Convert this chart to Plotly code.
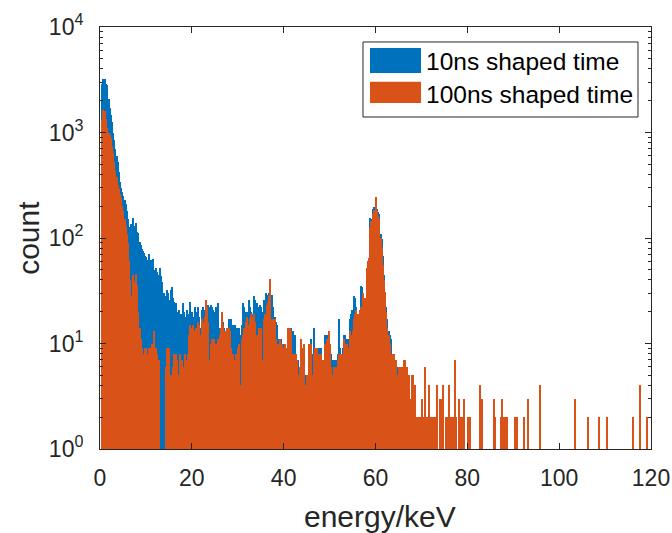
import numpy as np
import plotly.graph_objects as go

# ---------------- data (counts per 0.25 keV bin) ----------------
bin_width_keV = 0.25

# 10 ns shaping time
blue_00_10 = [0, 2900, 3250, 3100, 3200, 2900, 2800, 2100, 1700, 1450,
              1250, 1000, 850, 700, 600, 520, 420, 340, 300, 270,
              250, 230, 210, 180, 150, 120, 128, 135, 155, 130,
              125, 140, 115, 112, 92, 85, 78, 75, 72, 68]
blue_10_20 = [66, 62, 70, 58, 62, 55, 63, 50, 52, 48,
              40, 45, 52, 44, 38, 30, 28, 25, 32, 30,
              26, 32, 34, 27, 25, 22, 24, 20, 21, 18,
              19, 17, 24, 20, 18, 21, 17, 19, 25, 20]
blue_20_30 = [20, 18, 22, 17, 20, 22, 18, 14, 21, 22,
              20, 21, 24, 22, 23, 22, 23, 22, 21, 20,
              19, 22, 24, 14, 13, 14, 15, 16, 14, 13,
              14, 13, 17, 16, 17, 15, 14, 15, 13, 14]
blue_30_40 = [13, 14, 12, 15, 24, 22, 20, 19, 20, 26,
              22, 20, 17, 19, 28, 26, 24, 22, 20, 23,
              22, 20, 26, 25, 30, 29, 28, 30, 36, 29,
              22, 17, 18, 16, 15, 11, 10, 11, 10, 10]
blue_40_50 = [10, 10, 9, 12, 13, 12, 14, 12, 13, 12,
              8, 7, 7, 6, 6, 10, 9, 10, 5, 4,
              5, 4, 10, 11, 8, 6, 14, 9, 9, 9,
              9, 8, 9, 6, 7, 7, 12, 12, 11, 12]
blue_50_60 = [9, 8, 7, 7, 7, 7, 7, 8, 17, 9,
              8, 9, 12, 12, 11, 11, 11, 17, 19, 21,
              20, 28, 27, 22, 18, 19, 17, 35, 34, 28,
              26, 25, 52, 60, 65, 155, 150, 190, 195, 180]
blue_60_70 = [200, 190, 175, 170, 110, 98, 68, 45, 31, 22,
              17, 13, 12, 11, 8, 8, 8, 7, 6, 5,
              5, 5, 4, 5, 4, 3, 3, 3, 3, 3,
              3, 2, 2, 3, 2, 1, 1, 1, 1, 1]
blue_70_80 = [1, 1, 2, 1, 0, 1, 1, 0, 1, 1,
              0, 1, 0, 1, 0, 0, 1, 1, 0, 0,
              1, 0, 1, 0, 1, 0, 0, 1, 0, 1,
              0, 0, 1, 0, 0, 1, 0, 0, 0, 0]
blue_80_90 = [1, 0, 1, 0, 0, 0, 0, 1, 0, 0,
              0, 1, 1, 0, 0, 0, 0, 0, 0, 1,
              0, 0, 0, 1, 0, 0, 0, 0, 0, 1,
              0, 1, 0, 0, 1, 0, 0, 0, 0, 0]
blue_90_100 = [0, 1, 0, 0, 0, 0, 0, 0, 0, 1,
               0, 0, 1, 0, 0, 0, 0, 0, 0, 0,
               0, 0, 0, 1, 0, 0, 0, 0, 0, 0,
               0, 0, 0, 0, 0, 0, 0, 0, 0, 0]
blue_100_110 = [0] * 40
blue_110_120 = [0] * 40

# 100 ns shaping time
orange_00_10 = [0, 1300, 1650, 1500, 1600, 1350, 1100, 980, 950, 880,
                750, 640, 520, 430, 380, 320, 290, 260, 240, 200,
                180, 150, 130, 110, 90, 60, 40, 28, 45, 38,
                30, 46, 35, 20, 14, 11, 9, 8, 4, 9]
orange_10_20 = [9, 8, 9, 8, 9, 10, 8, 13, 9, 8,
                6, 7, 0, 0, 1, 0, 1, 6, 9, 8,
                9, 5, 2, 6, 8, 7, 8, 7, 5, 8,
                4, 7, 2, 6, 8, 7, 8, 12, 15, 13]
orange_20_30 = [14, 15, 13, 14, 13, 16, 15, 12, 17, 14,
                16, 18, 26, 22, 16, 7, 10, 11, 10, 11,
                8, 10, 11, 10, 12, 14, 20, 15, 13, 13,
                14, 12, 14, 13, 9, 8, 7, 6, 8, 7]
orange_30_40 = [9, 10, 4, 11, 12, 14, 13, 16, 18, 15,
                17, 19, 16, 18, 19, 16, 12, 11, 14, 13,
                14, 7, 17, 19, 18, 23, 25, 28, 41, 17,
                17, 16, 17, 11, 10, 10, 11, 9, 10, 9]
orange_40_50 = [0, 10, 9, 14, 13, 14, 13, 8, 8, 8,
                8, 7, 5, 2, 6, 11, 9, 10, 0, 4,
                5, 4, 10, 10, 5, 5, 8, 9, 8, 9,
                8, 8, 8, 0, 7, 7, 10, 11, 10, 13]
orange_50_60 = [10, 6, 5, 6, 5, 6, 6, 7, 8, 8,
                8, 8, 11, 10, 9, 10, 9, 13, 12, 11,
                13, 17, 19, 21, 19, 17, 21, 22, 14, 30,
                27, 25, 52, 60, 65, 125, 145, 170, 185, 160]
orange_60_70 = [245, 180, 160, 150, 100, 80, 55, 40, 31, 20,
                14, 12, 10, 8, 8, 2, 8, 7, 5, 5,
                6, 6, 6, 6, 7, 7, 0, 6, 5, 5,
                3, 5, 5, 0, 4, 2, 2, 2, 2, 2]
orange_70_80 = [3, 2, 2, 6, 2, 2, 4, 2, 2, 2,
                2, 2, 0, 4, 1, 0, 3, 3, 4, 0,
                1, 2, 2, 1, 4, 2, 2, 2, 2, 7,
                2, 1, 3, 2, 2, 2, 1, 3, 0, 1]
orange_80_90 = [2, 1, 2, 1, 0, 1, 0, 1, 0, 1,
                0, 4, 3, 1, 0, 1, 0, 1, 0, 1,
                0, 1, 0, 3, 2, 1, 0, 1, 0, 2,
                3, 2, 2, 2, 2, 1, 0, 1, 0, 1]
orange_90_100 = [0, 2, 1, 2, 0, 1, 0, 0, 0, 2,
                 1, 0, 3, 0, 1, 0, 0, 0, 0, 0,
                 0, 0, 0, 4, 0, 0, 0, 1, 0, 0,
                 0, 0, 0, 1, 0, 0, 0, 0, 0, 0]
orange_100_110 = [0, 0, 0, 0, 1, 0, 0, 0, 0, 0,
                  0, 0, 0, 3, 0, 0, 0, 0, 0, 0,
                  1, 0, 0, 0, 0, 2, 0, 0, 0, 0,
                  0, 0, 0, 0, 2, 0, 0, 0, 0, 0]
orange_110_120 = [0, 2, 0, 0, 0, 0, 0, 0, 0, 1,
                  0, 0, 0, 0, 0, 0, 0, 0, 0, 0,
                  0, 0, 0, 0, 2, 0, 0, 0, 0, 0,
                  4, 0, 0, 0, 0, 0, 2, 0, 0, 0]

series_names = ["10ns shaped time", "100ns shaped time"]
x_tick_vals = [0, 20, 40, 60, 80, 100, 120]
y_tick_vals = [1, 10, 100, 1000, 10000]
y_tick_text = ["10<sup>0</sup>", "10<sup>1</sup>", "10<sup>2</sup>",
               "10<sup>3</sup>", "10<sup>4</sup>"]
x_label = "energy/keV"
y_label = "count"

counts_10ns = (blue_00_10 + blue_10_20 + blue_20_30 + blue_30_40 + blue_40_50 +
               blue_50_60 + blue_60_70 + blue_70_80 + blue_80_90 + blue_90_100 +
               blue_100_110 + blue_110_120)
counts_100ns = (orange_00_10 + orange_10_20 + orange_20_30 + orange_30_40 +
                orange_40_50 + orange_50_60 + orange_60_70 + orange_70_80 +
                orange_80_90 + orange_90_100 + orange_100_110 + orange_110_120)

n_bins = len(counts_10ns)
bin_centers = (np.arange(n_bins) + 0.5) * bin_width_keV

# ---------------- style ----------------
BLUE = "#0072BD"
ORANGE = "#D95319"
AXC = "#262626"
FONT = "Liberation Sans, Arial, sans-serif"


def clean(vals):
    return [v if v > 0 else None for v in vals]


fig = go.Figure()
fig.add_trace(go.Bar(x=bin_centers, y=clean(counts_10ns), width=bin_width_keV,
                     marker=dict(color=BLUE, line=dict(width=0)),
                     name=series_names[0], showlegend=False))
fig.add_trace(go.Bar(x=bin_centers, y=clean(counts_100ns), width=bin_width_keV,
                     marker=dict(color=ORANGE, line=dict(width=0)),
                     name=series_names[1], showlegend=False))

minor_vals = [m * 10 ** d for d in range(0, 4) for m in range(2, 10)]

fig.update_layout(
    width=672, height=533, autosize=False,
    margin=dict(l=100, r=21, t=27, b=84),
    paper_bgcolor="white", plot_bgcolor="white",
    barmode="overlay", bargap=0,
    font=dict(family=FONT, color=AXC),
    xaxis=dict(range=[0, 120], tickvals=x_tick_vals, ticks="inside", ticklen=6,
               tickcolor=AXC, showline=True, linecolor=AXC, linewidth=1,
               mirror="ticks", showgrid=False, zeroline=False, automargin=False,
               tickfont=dict(size=23, color=AXC), ticklabelstandoff=8),
    yaxis=dict(type="log", range=[0, 4], tickvals=y_tick_vals, ticktext=y_tick_text,
               ticks="inside", ticklen=6, tickcolor=AXC, showline=True,
               linecolor=AXC, linewidth=1, mirror="allticks", showgrid=False,
               zeroline=False, automargin=False, tickfont=dict(size=23, color=AXC),
               ticklabelstandoff=11,
               minor=dict(tickvals=minor_vals, ticks="inside", ticklen=3,
                          tickcolor=AXC, showgrid=False)),
)

# axis titles
fig.add_annotation(text=x_label, xref="paper", yref="paper", x=0.508, y=-0.161,
                   xanchor="center", yanchor="middle", showarrow=False,
                   font=dict(size=30, color=AXC, family=FONT))
fig.add_annotation(text=y_label, xref="paper", yref="paper", x=-0.131, y=0.5,
                   xanchor="center", yanchor="middle", showarrow=False, textangle=-90,
                   font=dict(size=30, color=AXC, family=FONT))

# legend (drawn box, patches and text)
fig.add_shape(type="rect", xref="paper", yref="paper", x0=0.4773, x1=0.9764,
              y0=0.7867, y1=0.9645, line=dict(color=AXC, width=1), fillcolor="white")
legend_rows = [(series_names[0], BLUE, 0.891, 0.950, 0.919),
               (series_names[1], ORANGE, 0.820, 0.870, 0.841)]
for name, col, y0, y1, ytxt in legend_rows:
    fig.add_shape(type="rect", xref="paper", yref="paper", x0=0.490, x1=0.5826,
                  y0=y0, y1=y1, line=dict(width=0), fillcolor=col)
    fig.add_annotation(text=name, xref="paper", yref="paper", x=0.588, y=ytxt,
                       xanchor="left", yanchor="middle", showarrow=False,
                       font=dict(size=24.5, color="#000000", family=FONT))

fig.write_html("out.html", config={"responsive": False})
